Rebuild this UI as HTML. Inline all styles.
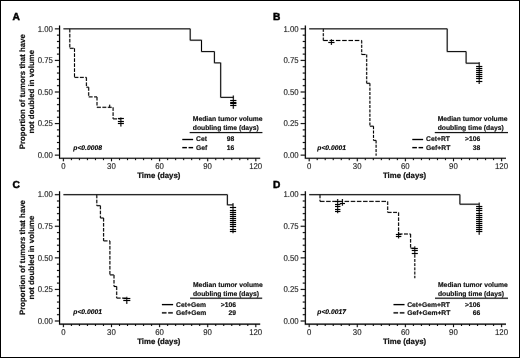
<!DOCTYPE html>
<html><head><meta charset="utf-8"><title>Figure</title>
<style>
html,body{margin:0;padding:0;background:#fff;}
body{width:520px;height:358px;overflow:hidden;font-family:"Liberation Sans", sans-serif;}
.frame{position:absolute;left:0;top:0;width:518px;height:356px;border:1px solid #000;}
svg{display:block;font-family:"Liberation Sans", sans-serif;filter:blur(0.4px);}
</style></head>
<body>
<svg width="520" height="358" viewBox="0 0 520 358" text-rendering="geometricPrecision">
<rect x="0" y="0" width="520" height="358" fill="#fff"/>
<g transform="translate(0,0.4)">
<g opacity="0.17">
<path d="M59.55,25.10 V157.90 H260.20" fill="none" stroke="#000" stroke-width="2.00" stroke-linejoin="miter"/>
<path d="M54.85,28.45H59.55M56.95,34.77H59.55M56.95,41.08H59.55M56.95,47.39H59.55M56.95,53.71H59.55M54.85,60.02H59.55M56.95,66.34H59.55M56.95,72.66H59.55M56.95,78.97H59.55M56.95,85.28H59.55M54.85,91.60H59.55M56.95,97.91H59.55M56.95,104.23H59.55M56.95,110.55H59.55M56.95,116.86H59.55M54.85,123.17H59.55M56.95,129.49H59.55M56.95,135.80H59.55M56.95,142.12H59.55M56.95,148.43H59.55M54.85,154.75H59.55" stroke="#000" stroke-width="1.85" fill="none"/>
<text transform="translate(52.90,31.10) scale(1,1.08)" text-anchor="end" font-size="7.8" fill="#1a1a1a" stroke="#1a1a1a" stroke-width="0.42">1.00</text>
<text transform="translate(52.90,62.67) scale(1,1.08)" text-anchor="end" font-size="7.8" fill="#1a1a1a" stroke="#1a1a1a" stroke-width="0.42">0.75</text>
<text transform="translate(52.90,94.25) scale(1,1.08)" text-anchor="end" font-size="7.8" fill="#1a1a1a" stroke="#1a1a1a" stroke-width="0.42">0.50</text>
<text transform="translate(52.90,125.83) scale(1,1.08)" text-anchor="end" font-size="7.8" fill="#1a1a1a" stroke="#1a1a1a" stroke-width="0.42">0.25</text>
<text transform="translate(52.90,157.40) scale(1,1.08)" text-anchor="end" font-size="7.8" fill="#1a1a1a" stroke="#1a1a1a" stroke-width="0.42">0.00</text>
<path d="M63.40,157.90V160.90M71.42,157.90V159.75M79.43,157.90V159.75M87.45,157.90V159.75M95.47,157.90V159.75M103.48,157.90V159.75M111.50,157.90V160.90M119.52,157.90V159.75M127.53,157.90V159.75M135.55,157.90V159.75M143.57,157.90V159.75M151.58,157.90V159.75M159.60,157.90V160.90M167.62,157.90V159.75M175.63,157.90V159.75M183.65,157.90V159.75M191.67,157.90V159.75M199.68,157.90V159.75M207.70,157.90V160.90M215.72,157.90V159.75M223.73,157.90V159.75M231.75,157.90V159.75M239.77,157.90V159.75M247.78,157.90V159.75M255.80,157.90V160.90" stroke="#000" stroke-width="1.85" fill="none"/>
<text transform="translate(63.30,168.60) scale(1,1.08)" text-anchor="middle" font-size="7.8" fill="#1a1a1a" stroke="#1a1a1a" stroke-width="0.42">0</text>
<text transform="translate(111.40,168.60) scale(1,1.08)" text-anchor="middle" font-size="7.8" fill="#1a1a1a" stroke="#1a1a1a" stroke-width="0.42">30</text>
<text transform="translate(159.50,168.60) scale(1,1.08)" text-anchor="middle" font-size="7.8" fill="#1a1a1a" stroke="#1a1a1a" stroke-width="0.42">60</text>
<text transform="translate(207.60,168.60) scale(1,1.08)" text-anchor="middle" font-size="7.8" fill="#1a1a1a" stroke="#1a1a1a" stroke-width="0.42">90</text>
<text transform="translate(255.70,168.60) scale(1,1.08)" text-anchor="middle" font-size="7.8" fill="#1a1a1a" stroke="#1a1a1a" stroke-width="0.42">120</text>
<text x="158.80" y="177.50" text-anchor="middle" font-size="7.8" font-weight="bold" fill="#111" stroke="#111" stroke-width="0.52">Time (days)</text>
<text transform="translate(24.90,91.30) rotate(-90)" text-anchor="middle" font-size="7.85" font-weight="bold" fill="#111" stroke="#111" stroke-width="0.48">Proportion of tumors that have</text>
<text transform="translate(34.40,91.30) rotate(-90)" text-anchor="middle" font-size="7.85" font-weight="bold" fill="#111" stroke="#111" stroke-width="0.48">not doubled in volume</text>
<path d="M305.35,25.10 V157.90 H506.00" fill="none" stroke="#000" stroke-width="2.00" stroke-linejoin="miter"/>
<path d="M300.65,28.45H305.35M302.75,34.77H305.35M302.75,41.08H305.35M302.75,47.39H305.35M302.75,53.71H305.35M300.65,60.02H305.35M302.75,66.34H305.35M302.75,72.66H305.35M302.75,78.97H305.35M302.75,85.28H305.35M300.65,91.60H305.35M302.75,97.91H305.35M302.75,104.23H305.35M302.75,110.55H305.35M302.75,116.86H305.35M300.65,123.17H305.35M302.75,129.49H305.35M302.75,135.80H305.35M302.75,142.12H305.35M302.75,148.43H305.35M300.65,154.75H305.35" stroke="#000" stroke-width="1.85" fill="none"/>
<text transform="translate(298.70,31.10) scale(1,1.08)" text-anchor="end" font-size="7.8" fill="#1a1a1a" stroke="#1a1a1a" stroke-width="0.42">1.00</text>
<text transform="translate(298.70,62.67) scale(1,1.08)" text-anchor="end" font-size="7.8" fill="#1a1a1a" stroke="#1a1a1a" stroke-width="0.42">0.75</text>
<text transform="translate(298.70,94.25) scale(1,1.08)" text-anchor="end" font-size="7.8" fill="#1a1a1a" stroke="#1a1a1a" stroke-width="0.42">0.50</text>
<text transform="translate(298.70,125.83) scale(1,1.08)" text-anchor="end" font-size="7.8" fill="#1a1a1a" stroke="#1a1a1a" stroke-width="0.42">0.25</text>
<text transform="translate(298.70,157.40) scale(1,1.08)" text-anchor="end" font-size="7.8" fill="#1a1a1a" stroke="#1a1a1a" stroke-width="0.42">0.00</text>
<path d="M309.20,157.90V160.90M317.22,157.90V159.75M325.23,157.90V159.75M333.25,157.90V159.75M341.27,157.90V159.75M349.28,157.90V159.75M357.30,157.90V160.90M365.32,157.90V159.75M373.33,157.90V159.75M381.35,157.90V159.75M389.37,157.90V159.75M397.38,157.90V159.75M405.40,157.90V160.90M413.42,157.90V159.75M421.43,157.90V159.75M429.45,157.90V159.75M437.47,157.90V159.75M445.48,157.90V159.75M453.50,157.90V160.90M461.52,157.90V159.75M469.53,157.90V159.75M477.55,157.90V159.75M485.57,157.90V159.75M493.58,157.90V159.75M501.60,157.90V160.90" stroke="#000" stroke-width="1.85" fill="none"/>
<text transform="translate(309.10,168.60) scale(1,1.08)" text-anchor="middle" font-size="7.8" fill="#1a1a1a" stroke="#1a1a1a" stroke-width="0.42">0</text>
<text transform="translate(357.20,168.60) scale(1,1.08)" text-anchor="middle" font-size="7.8" fill="#1a1a1a" stroke="#1a1a1a" stroke-width="0.42">30</text>
<text transform="translate(405.30,168.60) scale(1,1.08)" text-anchor="middle" font-size="7.8" fill="#1a1a1a" stroke="#1a1a1a" stroke-width="0.42">60</text>
<text transform="translate(453.40,168.60) scale(1,1.08)" text-anchor="middle" font-size="7.8" fill="#1a1a1a" stroke="#1a1a1a" stroke-width="0.42">90</text>
<text transform="translate(501.50,168.60) scale(1,1.08)" text-anchor="middle" font-size="7.8" fill="#1a1a1a" stroke="#1a1a1a" stroke-width="0.42">120</text>
<text x="404.60" y="177.50" text-anchor="middle" font-size="7.8" font-weight="bold" fill="#111" stroke="#111" stroke-width="0.52">Time (days)</text>
<path d="M59.55,190.95 V323.75 H260.20" fill="none" stroke="#000" stroke-width="2.00" stroke-linejoin="miter"/>
<path d="M54.85,194.30H59.55M56.95,200.61H59.55M56.95,206.93H59.55M56.95,213.25H59.55M56.95,219.56H59.55M54.85,225.88H59.55M56.95,232.19H59.55M56.95,238.50H59.55M56.95,244.82H59.55M56.95,251.13H59.55M54.85,257.45H59.55M56.95,263.76H59.55M56.95,270.08H59.55M56.95,276.39H59.55M56.95,282.71H59.55M54.85,289.03H59.55M56.95,295.34H59.55M56.95,301.66H59.55M56.95,307.97H59.55M56.95,314.29H59.55M54.85,320.60H59.55" stroke="#000" stroke-width="1.85" fill="none"/>
<text transform="translate(52.90,196.95) scale(1,1.08)" text-anchor="end" font-size="7.8" fill="#1a1a1a" stroke="#1a1a1a" stroke-width="0.42">1.00</text>
<text transform="translate(52.90,228.53) scale(1,1.08)" text-anchor="end" font-size="7.8" fill="#1a1a1a" stroke="#1a1a1a" stroke-width="0.42">0.75</text>
<text transform="translate(52.90,260.10) scale(1,1.08)" text-anchor="end" font-size="7.8" fill="#1a1a1a" stroke="#1a1a1a" stroke-width="0.42">0.50</text>
<text transform="translate(52.90,291.68) scale(1,1.08)" text-anchor="end" font-size="7.8" fill="#1a1a1a" stroke="#1a1a1a" stroke-width="0.42">0.25</text>
<text transform="translate(52.90,323.25) scale(1,1.08)" text-anchor="end" font-size="7.8" fill="#1a1a1a" stroke="#1a1a1a" stroke-width="0.42">0.00</text>
<path d="M63.40,323.75V326.75M71.42,323.75V325.60M79.43,323.75V325.60M87.45,323.75V325.60M95.47,323.75V325.60M103.48,323.75V325.60M111.50,323.75V326.75M119.52,323.75V325.60M127.53,323.75V325.60M135.55,323.75V325.60M143.57,323.75V325.60M151.58,323.75V325.60M159.60,323.75V326.75M167.62,323.75V325.60M175.63,323.75V325.60M183.65,323.75V325.60M191.67,323.75V325.60M199.68,323.75V325.60M207.70,323.75V326.75M215.72,323.75V325.60M223.73,323.75V325.60M231.75,323.75V325.60M239.77,323.75V325.60M247.78,323.75V325.60M255.80,323.75V326.75" stroke="#000" stroke-width="1.85" fill="none"/>
<text transform="translate(63.30,334.45) scale(1,1.08)" text-anchor="middle" font-size="7.8" fill="#1a1a1a" stroke="#1a1a1a" stroke-width="0.42">0</text>
<text transform="translate(111.40,334.45) scale(1,1.08)" text-anchor="middle" font-size="7.8" fill="#1a1a1a" stroke="#1a1a1a" stroke-width="0.42">30</text>
<text transform="translate(159.50,334.45) scale(1,1.08)" text-anchor="middle" font-size="7.8" fill="#1a1a1a" stroke="#1a1a1a" stroke-width="0.42">60</text>
<text transform="translate(207.60,334.45) scale(1,1.08)" text-anchor="middle" font-size="7.8" fill="#1a1a1a" stroke="#1a1a1a" stroke-width="0.42">90</text>
<text transform="translate(255.70,334.45) scale(1,1.08)" text-anchor="middle" font-size="7.8" fill="#1a1a1a" stroke="#1a1a1a" stroke-width="0.42">120</text>
<text x="158.80" y="343.35" text-anchor="middle" font-size="7.8" font-weight="bold" fill="#111" stroke="#111" stroke-width="0.52">Time (days)</text>
<text transform="translate(24.90,257.15) rotate(-90)" text-anchor="middle" font-size="7.85" font-weight="bold" fill="#111" stroke="#111" stroke-width="0.48">Proportion of tumors that have</text>
<text transform="translate(34.40,257.15) rotate(-90)" text-anchor="middle" font-size="7.85" font-weight="bold" fill="#111" stroke="#111" stroke-width="0.48">not doubled in volume</text>
<path d="M305.35,190.95 V323.75 H506.00" fill="none" stroke="#000" stroke-width="2.00" stroke-linejoin="miter"/>
<path d="M300.65,194.30H305.35M302.75,200.61H305.35M302.75,206.93H305.35M302.75,213.25H305.35M302.75,219.56H305.35M300.65,225.88H305.35M302.75,232.19H305.35M302.75,238.50H305.35M302.75,244.82H305.35M302.75,251.13H305.35M300.65,257.45H305.35M302.75,263.76H305.35M302.75,270.08H305.35M302.75,276.39H305.35M302.75,282.71H305.35M300.65,289.03H305.35M302.75,295.34H305.35M302.75,301.66H305.35M302.75,307.97H305.35M302.75,314.29H305.35M300.65,320.60H305.35" stroke="#000" stroke-width="1.85" fill="none"/>
<text transform="translate(298.70,196.95) scale(1,1.08)" text-anchor="end" font-size="7.8" fill="#1a1a1a" stroke="#1a1a1a" stroke-width="0.42">1.00</text>
<text transform="translate(298.70,228.53) scale(1,1.08)" text-anchor="end" font-size="7.8" fill="#1a1a1a" stroke="#1a1a1a" stroke-width="0.42">0.75</text>
<text transform="translate(298.70,260.10) scale(1,1.08)" text-anchor="end" font-size="7.8" fill="#1a1a1a" stroke="#1a1a1a" stroke-width="0.42">0.50</text>
<text transform="translate(298.70,291.68) scale(1,1.08)" text-anchor="end" font-size="7.8" fill="#1a1a1a" stroke="#1a1a1a" stroke-width="0.42">0.25</text>
<text transform="translate(298.70,323.25) scale(1,1.08)" text-anchor="end" font-size="7.8" fill="#1a1a1a" stroke="#1a1a1a" stroke-width="0.42">0.00</text>
<path d="M309.20,323.75V326.75M317.22,323.75V325.60M325.23,323.75V325.60M333.25,323.75V325.60M341.27,323.75V325.60M349.28,323.75V325.60M357.30,323.75V326.75M365.32,323.75V325.60M373.33,323.75V325.60M381.35,323.75V325.60M389.37,323.75V325.60M397.38,323.75V325.60M405.40,323.75V326.75M413.42,323.75V325.60M421.43,323.75V325.60M429.45,323.75V325.60M437.47,323.75V325.60M445.48,323.75V325.60M453.50,323.75V326.75M461.52,323.75V325.60M469.53,323.75V325.60M477.55,323.75V325.60M485.57,323.75V325.60M493.58,323.75V325.60M501.60,323.75V326.75" stroke="#000" stroke-width="1.85" fill="none"/>
<text transform="translate(309.10,334.45) scale(1,1.08)" text-anchor="middle" font-size="7.8" fill="#1a1a1a" stroke="#1a1a1a" stroke-width="0.42">0</text>
<text transform="translate(357.20,334.45) scale(1,1.08)" text-anchor="middle" font-size="7.8" fill="#1a1a1a" stroke="#1a1a1a" stroke-width="0.42">30</text>
<text transform="translate(405.30,334.45) scale(1,1.08)" text-anchor="middle" font-size="7.8" fill="#1a1a1a" stroke="#1a1a1a" stroke-width="0.42">60</text>
<text transform="translate(453.40,334.45) scale(1,1.08)" text-anchor="middle" font-size="7.8" fill="#1a1a1a" stroke="#1a1a1a" stroke-width="0.42">90</text>
<text transform="translate(501.50,334.45) scale(1,1.08)" text-anchor="middle" font-size="7.8" fill="#1a1a1a" stroke="#1a1a1a" stroke-width="0.42">120</text>
<text x="404.60" y="343.35" text-anchor="middle" font-size="7.8" font-weight="bold" fill="#111" stroke="#111" stroke-width="0.52">Time (days)</text>
<text x="12.5" y="19.7" font-size="10.2" font-weight="bold" fill="#000" stroke="#000" stroke-width="0.80">A</text>
<text x="273.1" y="19.6" font-size="10.2" font-weight="bold" fill="#000" stroke="#000" stroke-width="0.80">B</text>
<text x="12.5" y="188.10000000000002" font-size="10.2" font-weight="bold" fill="#000" stroke="#000" stroke-width="0.80">C</text>
<text x="273.1" y="187.4" font-size="10.2" font-weight="bold" fill="#000" stroke="#000" stroke-width="0.80">D</text>
<path d="M63.4,28.45 H190.2 V39.8 H201.5 V51.2 H214.4 V62.5 H220.7 V96.95 H233.3" fill="none" stroke="#000" stroke-width="1.90" stroke-linejoin="miter"/>
<path d="M233.30,95.10V108.35M230.20,100.10H236.40M230.20,102.10H236.40M230.20,103.10H236.40M230.20,105.10H236.40" fill="none" stroke="#000" stroke-width="1.90"/>
<path d="M69.80,28.45L69.80,47.90" fill="none" stroke="#000" stroke-width="1.90" stroke-dasharray="3.6 1.4" stroke-dashoffset="-0.00" stroke-linecap="butt"/>
<path d="M69.80,47.90L74.50,47.90" fill="none" stroke="#000" stroke-width="1.90" stroke-dasharray="3.9 1.5" stroke-dashoffset="-0.00" stroke-linecap="butt"/>
<path d="M74.50,47.90L74.50,77.00" fill="none" stroke="#000" stroke-width="1.90" stroke-dasharray="3.6 1.4" stroke-dashoffset="-0.00" stroke-linecap="butt"/>
<path d="M74.50,77.00L86.40,77.00" fill="none" stroke="#000" stroke-width="1.90" stroke-dasharray="3.9 1.5" stroke-dashoffset="-0.00" stroke-linecap="butt"/>
<path d="M86.40,77.00L86.40,86.80" fill="none" stroke="#000" stroke-width="1.90" stroke-dasharray="3.6 1.4" stroke-dashoffset="-0.00" stroke-linecap="butt"/>
<path d="M86.40,86.80L88.70,86.80" fill="none" stroke="#000" stroke-width="1.90" stroke-dasharray="3.9 1.5" stroke-dashoffset="-0.00" stroke-linecap="butt"/>
<path d="M88.70,86.80L88.70,96.50" fill="none" stroke="#000" stroke-width="1.90" stroke-dasharray="3.6 1.4" stroke-dashoffset="-0.00" stroke-linecap="butt"/>
<path d="M88.70,96.50L97.00,96.50" fill="none" stroke="#000" stroke-width="1.90" stroke-dasharray="3.9 1.5" stroke-dashoffset="-0.00" stroke-linecap="butt"/>
<path d="M97.00,96.50L97.00,106.90" fill="none" stroke="#000" stroke-width="1.90" stroke-dasharray="3.6 1.4" stroke-dashoffset="-0.00" stroke-linecap="butt"/>
<path d="M97.00,106.90L113.10,106.90" fill="none" stroke="#000" stroke-width="1.90" stroke-dasharray="3.9 1.5" stroke-dashoffset="-0.00" stroke-linecap="butt"/>
<path d="M113.10,106.90L113.10,118.50" fill="none" stroke="#000" stroke-width="1.90" stroke-dasharray="3.6 1.4" stroke-dashoffset="-0.00" stroke-linecap="butt"/>
<path d="M113.10,118.50L120.90,118.50" fill="none" stroke="#000" stroke-width="1.90" stroke-dasharray="3.9 1.5" stroke-dashoffset="-0.00" stroke-linecap="butt"/>
<path d="M109.70,104.30V107.20" fill="none" stroke="#000" stroke-width="1.90"/>
<path d="M120.90,117.00V126.10M117.90,118.10H123.90M117.90,121.10H123.90M117.90,123.10H123.90" fill="none" stroke="#000" stroke-width="1.90"/>
<text x="73.3" y="149.4" font-size="6.75" font-weight="bold" font-style="italic" fill="#000" stroke="#000" stroke-width="0.46">p&lt;0.0008</text>
<text x="192.8" y="120.85" font-size="6.75" font-weight="bold" fill="#111" stroke="#111" stroke-width="0.48">Median tumor volume</text>
<text x="192.8" y="129.7" font-size="6.75" font-weight="bold" fill="#111" stroke="#111" stroke-width="0.48">doubling time (days)</text>
<path d="M189.7,132.2H262.4" stroke="#000" stroke-width="1.90" fill="none"/>
<path d="M182.3,139.1H193.10000000000002" stroke="#000" stroke-width="2.10" fill="none"/>
<path d="M182.3,147.2H193.10000000000002" stroke="#000" stroke-width="2.10" stroke-dasharray="4.6 1.7" fill="none"/>
<text x="196.1" y="140.8" font-size="6.75" font-weight="bold" fill="#111" stroke="#111" stroke-width="0.48">Cet</text>
<text x="196.1" y="149.5" font-size="6.75" font-weight="bold" fill="#111" stroke="#111" stroke-width="0.48">Gef</text>
<text x="234.2" y="140.8" text-anchor="end" font-size="6.75" font-weight="bold" fill="#111" stroke="#111" stroke-width="0.48">98</text>
<text x="234.2" y="149.5" text-anchor="end" font-size="6.75" font-weight="bold" fill="#111" stroke="#111" stroke-width="0.48">16</text>
<path d="M309.2,28.45 H447.2 V51.2 H466.1 V62.8 H479.2" fill="none" stroke="#000" stroke-width="1.90" stroke-linejoin="miter"/>
<path d="M479.20,61.80V83.60M476.10,66.10H482.30M476.10,68.10H482.30M476.10,70.10H482.30M476.10,72.10H482.30M476.10,74.10H482.30M476.10,76.10H482.30M476.10,78.10H482.30M476.10,81.10H482.30" fill="none" stroke="#000" stroke-width="1.90"/>
<path d="M323.30,28.45L323.30,40.10" fill="none" stroke="#000" stroke-width="1.90" stroke-dasharray="3.0 1.35" stroke-dashoffset="-0.00" stroke-linecap="butt"/>
<path d="M323.30,40.10L361.70,40.10" fill="none" stroke="#000" stroke-width="1.90" stroke-dasharray="4.5 1.8" stroke-dashoffset="-0.00" stroke-linecap="butt"/>
<path d="M361.70,40.10L361.70,54.10" fill="none" stroke="#000" stroke-width="1.90" stroke-dasharray="3.0 1.35" stroke-dashoffset="-0.00" stroke-linecap="butt"/>
<path d="M361.70,54.10L366.70,54.10" fill="none" stroke="#000" stroke-width="1.90" stroke-dasharray="3.9 1.5" stroke-dashoffset="-0.00" stroke-linecap="butt"/>
<path d="M366.70,54.10L366.70,82.90" fill="none" stroke="#000" stroke-width="1.90" stroke-dasharray="3.0 1.35" stroke-dashoffset="-0.00" stroke-linecap="butt"/>
<path d="M366.70,82.90L369.90,82.90" fill="none" stroke="#000" stroke-width="1.90" stroke-dasharray="3.9 1.5" stroke-dashoffset="-0.00" stroke-linecap="butt"/>
<path d="M369.90,82.90L369.90,125.80" fill="none" stroke="#000" stroke-width="1.90" stroke-dasharray="3.0 1.35" stroke-dashoffset="-0.00" stroke-linecap="butt"/>
<path d="M369.90,125.80L373.50,125.80" fill="none" stroke="#000" stroke-width="1.90" stroke-dasharray="3.9 1.5" stroke-dashoffset="-0.00" stroke-linecap="butt"/>
<path d="M373.50,125.80L373.50,140.00" fill="none" stroke="#000" stroke-width="1.90" stroke-dasharray="3.0 1.35" stroke-dashoffset="-0.00" stroke-linecap="butt"/>
<path d="M373.50,140.00L376.10,140.00" fill="none" stroke="#000" stroke-width="1.90" stroke-dasharray="3.9 1.5" stroke-dashoffset="-0.00" stroke-linecap="butt"/>
<path d="M376.10,140.00L376.10,155.30" fill="none" stroke="#000" stroke-width="1.90" stroke-dasharray="3.0 1.35" stroke-dashoffset="-0.00" stroke-linecap="butt"/>
<path d="M331.40,38.90V44.50M328.30,42.10H334.50" fill="none" stroke="#000" stroke-width="1.90"/>
<text x="317.3" y="149.4" font-size="6.75" font-weight="bold" font-style="italic" fill="#000" stroke="#000" stroke-width="0.46">p&lt;0.0001</text>
<text x="437.7" y="120.85" font-size="6.75" font-weight="bold" fill="#111" stroke="#111" stroke-width="0.48">Median tumor volume</text>
<text x="437.7" y="129.7" font-size="6.75" font-weight="bold" fill="#111" stroke="#111" stroke-width="0.48">doubling time (days)</text>
<path d="M434.8,132.2H508.0" stroke="#000" stroke-width="1.90" fill="none"/>
<path d="M412.3,139.1H423.1" stroke="#000" stroke-width="2.10" fill="none"/>
<path d="M412.3,147.2H423.1" stroke="#000" stroke-width="2.10" stroke-dasharray="4.6 1.7" fill="none"/>
<text x="426.1" y="140.8" font-size="6.75" font-weight="bold" fill="#111" stroke="#111" stroke-width="0.48">Cet+RT</text>
<text x="426.1" y="149.5" font-size="6.75" font-weight="bold" fill="#111" stroke="#111" stroke-width="0.48">Gef+RT</text>
<text x="480.3" y="140.8" text-anchor="end" font-size="6.75" font-weight="bold" fill="#111" stroke="#111" stroke-width="0.48">&gt;106</text>
<text x="480.3" y="149.5" text-anchor="end" font-size="6.75" font-weight="bold" fill="#111" stroke="#111" stroke-width="0.48">38</text>
<path d="M63.4,194.3 H227.35 V204.5 H233" fill="none" stroke="#000" stroke-width="1.90" stroke-linejoin="miter"/>
<path d="M233.00,202.80V232.80M229.90,207.10H236.10M229.90,210.10H236.10M229.90,212.10H236.10M229.90,214.10H236.10M229.90,216.10H236.10M229.90,218.10H236.10M229.90,220.10H236.10M229.90,222.10H236.10M229.90,224.10H236.10M229.90,226.10H236.10M229.90,229.10H236.10M229.90,231.10H236.10" fill="none" stroke="#000" stroke-width="1.90"/>
<path d="M96.80,194.30L96.80,205.30" fill="none" stroke="#000" stroke-width="1.90" stroke-dasharray="3.6 1.4" stroke-dashoffset="-0.00" stroke-linecap="butt"/>
<path d="M96.80,205.30L100.40,205.30" fill="none" stroke="#000" stroke-width="1.90" stroke-dasharray="3.9 1.5" stroke-dashoffset="-0.00" stroke-linecap="butt"/>
<path d="M100.40,205.30L100.40,217.60" fill="none" stroke="#000" stroke-width="1.90" stroke-dasharray="3.6 1.4" stroke-dashoffset="-0.00" stroke-linecap="butt"/>
<path d="M100.40,217.60L103.60,217.60" fill="none" stroke="#000" stroke-width="1.90" stroke-dasharray="3.9 1.5" stroke-dashoffset="-0.00" stroke-linecap="butt"/>
<path d="M103.60,217.60L103.60,240.50" fill="none" stroke="#000" stroke-width="1.90" stroke-dasharray="3.6 1.4" stroke-dashoffset="-0.00" stroke-linecap="butt"/>
<path d="M103.60,240.50L109.90,240.50" fill="none" stroke="#000" stroke-width="1.90" stroke-dasharray="3.9 1.5" stroke-dashoffset="-0.00" stroke-linecap="butt"/>
<path d="M109.90,240.50L109.90,274.50" fill="none" stroke="#000" stroke-width="1.90" stroke-dasharray="3.6 1.4" stroke-dashoffset="-0.00" stroke-linecap="butt"/>
<path d="M109.90,274.50L114.00,274.50" fill="none" stroke="#000" stroke-width="1.90" stroke-dasharray="3.9 1.5" stroke-dashoffset="-0.00" stroke-linecap="butt"/>
<path d="M114.00,274.50L114.00,286.10" fill="none" stroke="#000" stroke-width="1.90" stroke-dasharray="3.6 1.4" stroke-dashoffset="-0.00" stroke-linecap="butt"/>
<path d="M114.00,286.10L116.70,286.10" fill="none" stroke="#000" stroke-width="1.90" stroke-dasharray="3.9 1.5" stroke-dashoffset="-0.00" stroke-linecap="butt"/>
<path d="M116.70,286.10L116.70,297.70" fill="none" stroke="#000" stroke-width="1.90" stroke-dasharray="3.6 1.4" stroke-dashoffset="-0.00" stroke-linecap="butt"/>
<path d="M116.70,297.70L127.00,297.70" fill="none" stroke="#000" stroke-width="1.90" stroke-dasharray="3.9 1.5" stroke-dashoffset="-0.00" stroke-linecap="butt"/>
<path d="M126.80,296.40V303.50M123.30,298.10H130.30M123.30,300.10H130.30" fill="none" stroke="#000" stroke-width="1.90"/>
<text x="73.3" y="314.0" font-size="6.75" font-weight="bold" font-style="italic" fill="#000" stroke="#000" stroke-width="0.46">p&lt;0.0001</text>
<text x="193.0" y="286.8" font-size="6.75" font-weight="bold" fill="#111" stroke="#111" stroke-width="0.48">Median tumor volume</text>
<text x="193.0" y="295.5" font-size="6.75" font-weight="bold" fill="#111" stroke="#111" stroke-width="0.48">doubling time (days)</text>
<path d="M190.1,297.8H262.2" stroke="#000" stroke-width="1.90" fill="none"/>
<path d="M161.9,304.2H173.10000000000002" stroke="#000" stroke-width="2.10" fill="none"/>
<path d="M161.9,312.4H173.10000000000002" stroke="#000" stroke-width="2.10" stroke-dasharray="4.6 1.7" fill="none"/>
<text x="176.1" y="306.3" font-size="6.75" font-weight="bold" fill="#111" stroke="#111" stroke-width="0.48">Cet+Gem</text>
<text x="176.1" y="314.6" font-size="6.75" font-weight="bold" fill="#111" stroke="#111" stroke-width="0.48">Gef+Gem</text>
<text x="236.0" y="306.3" text-anchor="end" font-size="6.75" font-weight="bold" fill="#111" stroke="#111" stroke-width="0.48">&gt;106</text>
<text x="236.0" y="314.6" text-anchor="end" font-size="6.75" font-weight="bold" fill="#111" stroke="#111" stroke-width="0.48">29</text>
<path d="M309.2,194.3 H459.9 V203.8 H479.2" fill="none" stroke="#000" stroke-width="1.90" stroke-linejoin="miter"/>
<path d="M479.20,202.20V234.40M476.10,206.10H482.30M476.10,208.10H482.30M476.10,210.10H482.30M476.10,213.10H482.30M476.10,215.10H482.30M476.10,217.10H482.30M476.10,219.10H482.30M476.10,221.10H482.30M476.10,223.10H482.30M476.10,225.10H482.30M476.10,227.10H482.30M476.10,229.10H482.30M476.10,231.10H482.30" fill="none" stroke="#000" stroke-width="1.90"/>
<path d="M320.00,194.30L320.00,201.00" fill="none" stroke="#000" stroke-width="1.90" stroke-dasharray="3.6 1.4" stroke-dashoffset="-0.00" stroke-linecap="butt"/>
<path d="M320.00,201.00L387.70,201.00" fill="none" stroke="#000" stroke-width="1.90" stroke-dasharray="4.5 1.65" stroke-dashoffset="-0.00" stroke-linecap="butt"/>
<path d="M387.70,201.00L387.70,212.00" fill="none" stroke="#000" stroke-width="1.90" stroke-dasharray="3.6 1.4" stroke-dashoffset="-0.00" stroke-linecap="butt"/>
<path d="M387.70,212.00L398.60,212.00" fill="none" stroke="#000" stroke-width="1.90" stroke-dasharray="3.9 1.5" stroke-dashoffset="-0.00" stroke-linecap="butt"/>
<path d="M398.60,212.00L398.60,233.60" fill="none" stroke="#000" stroke-width="1.90" stroke-dasharray="3.6 1.4" stroke-dashoffset="-0.00" stroke-linecap="butt"/>
<path d="M398.60,233.60L410.60,233.60" fill="none" stroke="#000" stroke-width="1.90" stroke-dasharray="3.9 1.5" stroke-dashoffset="-0.00" stroke-linecap="butt"/>
<path d="M410.60,233.60L410.60,247.80" fill="none" stroke="#000" stroke-width="1.90" stroke-dasharray="3.6 1.4" stroke-dashoffset="-0.00" stroke-linecap="butt"/>
<path d="M410.60,247.80L414.80,247.80" fill="none" stroke="#000" stroke-width="1.90" stroke-dasharray="3.9 1.5" stroke-dashoffset="-0.00" stroke-linecap="butt"/>
<path d="M414.80,254.40L414.80,277.80" fill="none" stroke="#000" stroke-width="1.90" stroke-dasharray="2.9 1.3" stroke-dashoffset="-0.00" stroke-linecap="butt"/>
<path d="M337.70,198.60V212.80M335.00,201.10H340.40M335.00,204.10H340.40M335.00,206.10H340.40M335.00,209.10H340.40M335.00,211.10H340.40" fill="none" stroke="#000" stroke-width="1.90"/>
<path d="M342.40,198.60V205.30M339.80,203.10H345.00" fill="none" stroke="#000" stroke-width="1.90"/>
<path d="M398.60,231.40V238.00M395.90,234.10H401.30M395.90,236.10H401.30" fill="none" stroke="#000" stroke-width="1.90"/>
<path d="M414.80,246.00V254.40M411.80,248.10H417.80M411.80,250.10H417.80M411.80,253.10H417.80" fill="none" stroke="#000" stroke-width="1.90"/>
<text x="317.3" y="314.0" font-size="6.75" font-weight="bold" font-style="italic" fill="#000" stroke="#000" stroke-width="0.46">p&lt;0.0017</text>
<text x="438.0" y="286.8" font-size="6.75" font-weight="bold" fill="#111" stroke="#111" stroke-width="0.48">Median tumor volume</text>
<text x="438.0" y="295.5" font-size="6.75" font-weight="bold" fill="#111" stroke="#111" stroke-width="0.48">doubling time (days)</text>
<path d="M435.0,297.8H508.0" stroke="#000" stroke-width="1.90" fill="none"/>
<path d="M393.5,304.2H404.5" stroke="#000" stroke-width="2.10" fill="none"/>
<path d="M393.5,312.4H404.5" stroke="#000" stroke-width="2.10" stroke-dasharray="4.6 1.7" fill="none"/>
<text x="407.2" y="306.3" font-size="6.75" font-weight="bold" fill="#111" stroke="#111" stroke-width="0.48">Cet+Gem+RT</text>
<text x="407.2" y="314.6" font-size="6.75" font-weight="bold" fill="#111" stroke="#111" stroke-width="0.48">Gef+Gem+RT</text>
<text x="480.2" y="306.3" text-anchor="end" font-size="6.75" font-weight="bold" fill="#111" stroke="#111" stroke-width="0.48">&gt;106</text>
<text x="480.2" y="314.6" text-anchor="end" font-size="6.75" font-weight="bold" fill="#111" stroke="#111" stroke-width="0.48">66</text>
</g>
<path d="M59.55,25.10 V157.90 H260.20" fill="none" stroke="#000" stroke-width="1.1" stroke-linejoin="miter"/>
<path d="M54.85,28.45H59.55M56.95,34.77H59.55M56.95,41.08H59.55M56.95,47.39H59.55M56.95,53.71H59.55M54.85,60.02H59.55M56.95,66.34H59.55M56.95,72.66H59.55M56.95,78.97H59.55M56.95,85.28H59.55M54.85,91.60H59.55M56.95,97.91H59.55M56.95,104.23H59.55M56.95,110.55H59.55M56.95,116.86H59.55M54.85,123.17H59.55M56.95,129.49H59.55M56.95,135.80H59.55M56.95,142.12H59.55M56.95,148.43H59.55M54.85,154.75H59.55" stroke="#000" stroke-width="0.95" fill="none"/>
<text transform="translate(52.90,31.10) scale(1,1.08)" text-anchor="end" font-size="7.8" fill="#1a1a1a" stroke="#1a1a1a" stroke-width="0.02">1.00</text>
<text transform="translate(52.90,62.67) scale(1,1.08)" text-anchor="end" font-size="7.8" fill="#1a1a1a" stroke="#1a1a1a" stroke-width="0.02">0.75</text>
<text transform="translate(52.90,94.25) scale(1,1.08)" text-anchor="end" font-size="7.8" fill="#1a1a1a" stroke="#1a1a1a" stroke-width="0.02">0.50</text>
<text transform="translate(52.90,125.83) scale(1,1.08)" text-anchor="end" font-size="7.8" fill="#1a1a1a" stroke="#1a1a1a" stroke-width="0.02">0.25</text>
<text transform="translate(52.90,157.40) scale(1,1.08)" text-anchor="end" font-size="7.8" fill="#1a1a1a" stroke="#1a1a1a" stroke-width="0.02">0.00</text>
<path d="M63.40,157.90V160.90M71.42,157.90V159.75M79.43,157.90V159.75M87.45,157.90V159.75M95.47,157.90V159.75M103.48,157.90V159.75M111.50,157.90V160.90M119.52,157.90V159.75M127.53,157.90V159.75M135.55,157.90V159.75M143.57,157.90V159.75M151.58,157.90V159.75M159.60,157.90V160.90M167.62,157.90V159.75M175.63,157.90V159.75M183.65,157.90V159.75M191.67,157.90V159.75M199.68,157.90V159.75M207.70,157.90V160.90M215.72,157.90V159.75M223.73,157.90V159.75M231.75,157.90V159.75M239.77,157.90V159.75M247.78,157.90V159.75M255.80,157.90V160.90" stroke="#000" stroke-width="0.95" fill="none"/>
<text transform="translate(63.30,168.60) scale(1,1.08)" text-anchor="middle" font-size="7.8" fill="#1a1a1a" stroke="#1a1a1a" stroke-width="0.02">0</text>
<text transform="translate(111.40,168.60) scale(1,1.08)" text-anchor="middle" font-size="7.8" fill="#1a1a1a" stroke="#1a1a1a" stroke-width="0.02">30</text>
<text transform="translate(159.50,168.60) scale(1,1.08)" text-anchor="middle" font-size="7.8" fill="#1a1a1a" stroke="#1a1a1a" stroke-width="0.02">60</text>
<text transform="translate(207.60,168.60) scale(1,1.08)" text-anchor="middle" font-size="7.8" fill="#1a1a1a" stroke="#1a1a1a" stroke-width="0.02">90</text>
<text transform="translate(255.70,168.60) scale(1,1.08)" text-anchor="middle" font-size="7.8" fill="#1a1a1a" stroke="#1a1a1a" stroke-width="0.02">120</text>
<text x="158.80" y="177.50" text-anchor="middle" font-size="7.8" font-weight="bold" fill="#111" stroke="#111" stroke-width="0.12">Time (days)</text>
<text transform="translate(24.90,91.30) rotate(-90)" text-anchor="middle" font-size="7.85" font-weight="bold" fill="#111" stroke="#111" stroke-width="0.08">Proportion of tumors that have</text>
<text transform="translate(34.40,91.30) rotate(-90)" text-anchor="middle" font-size="7.85" font-weight="bold" fill="#111" stroke="#111" stroke-width="0.08">not doubled in volume</text>
<path d="M305.35,25.10 V157.90 H506.00" fill="none" stroke="#000" stroke-width="1.1" stroke-linejoin="miter"/>
<path d="M300.65,28.45H305.35M302.75,34.77H305.35M302.75,41.08H305.35M302.75,47.39H305.35M302.75,53.71H305.35M300.65,60.02H305.35M302.75,66.34H305.35M302.75,72.66H305.35M302.75,78.97H305.35M302.75,85.28H305.35M300.65,91.60H305.35M302.75,97.91H305.35M302.75,104.23H305.35M302.75,110.55H305.35M302.75,116.86H305.35M300.65,123.17H305.35M302.75,129.49H305.35M302.75,135.80H305.35M302.75,142.12H305.35M302.75,148.43H305.35M300.65,154.75H305.35" stroke="#000" stroke-width="0.95" fill="none"/>
<text transform="translate(298.70,31.10) scale(1,1.08)" text-anchor="end" font-size="7.8" fill="#1a1a1a" stroke="#1a1a1a" stroke-width="0.02">1.00</text>
<text transform="translate(298.70,62.67) scale(1,1.08)" text-anchor="end" font-size="7.8" fill="#1a1a1a" stroke="#1a1a1a" stroke-width="0.02">0.75</text>
<text transform="translate(298.70,94.25) scale(1,1.08)" text-anchor="end" font-size="7.8" fill="#1a1a1a" stroke="#1a1a1a" stroke-width="0.02">0.50</text>
<text transform="translate(298.70,125.83) scale(1,1.08)" text-anchor="end" font-size="7.8" fill="#1a1a1a" stroke="#1a1a1a" stroke-width="0.02">0.25</text>
<text transform="translate(298.70,157.40) scale(1,1.08)" text-anchor="end" font-size="7.8" fill="#1a1a1a" stroke="#1a1a1a" stroke-width="0.02">0.00</text>
<path d="M309.20,157.90V160.90M317.22,157.90V159.75M325.23,157.90V159.75M333.25,157.90V159.75M341.27,157.90V159.75M349.28,157.90V159.75M357.30,157.90V160.90M365.32,157.90V159.75M373.33,157.90V159.75M381.35,157.90V159.75M389.37,157.90V159.75M397.38,157.90V159.75M405.40,157.90V160.90M413.42,157.90V159.75M421.43,157.90V159.75M429.45,157.90V159.75M437.47,157.90V159.75M445.48,157.90V159.75M453.50,157.90V160.90M461.52,157.90V159.75M469.53,157.90V159.75M477.55,157.90V159.75M485.57,157.90V159.75M493.58,157.90V159.75M501.60,157.90V160.90" stroke="#000" stroke-width="0.95" fill="none"/>
<text transform="translate(309.10,168.60) scale(1,1.08)" text-anchor="middle" font-size="7.8" fill="#1a1a1a" stroke="#1a1a1a" stroke-width="0.02">0</text>
<text transform="translate(357.20,168.60) scale(1,1.08)" text-anchor="middle" font-size="7.8" fill="#1a1a1a" stroke="#1a1a1a" stroke-width="0.02">30</text>
<text transform="translate(405.30,168.60) scale(1,1.08)" text-anchor="middle" font-size="7.8" fill="#1a1a1a" stroke="#1a1a1a" stroke-width="0.02">60</text>
<text transform="translate(453.40,168.60) scale(1,1.08)" text-anchor="middle" font-size="7.8" fill="#1a1a1a" stroke="#1a1a1a" stroke-width="0.02">90</text>
<text transform="translate(501.50,168.60) scale(1,1.08)" text-anchor="middle" font-size="7.8" fill="#1a1a1a" stroke="#1a1a1a" stroke-width="0.02">120</text>
<text x="404.60" y="177.50" text-anchor="middle" font-size="7.8" font-weight="bold" fill="#111" stroke="#111" stroke-width="0.12">Time (days)</text>
<path d="M59.55,190.95 V323.75 H260.20" fill="none" stroke="#000" stroke-width="1.1" stroke-linejoin="miter"/>
<path d="M54.85,194.30H59.55M56.95,200.61H59.55M56.95,206.93H59.55M56.95,213.25H59.55M56.95,219.56H59.55M54.85,225.88H59.55M56.95,232.19H59.55M56.95,238.50H59.55M56.95,244.82H59.55M56.95,251.13H59.55M54.85,257.45H59.55M56.95,263.76H59.55M56.95,270.08H59.55M56.95,276.39H59.55M56.95,282.71H59.55M54.85,289.03H59.55M56.95,295.34H59.55M56.95,301.66H59.55M56.95,307.97H59.55M56.95,314.29H59.55M54.85,320.60H59.55" stroke="#000" stroke-width="0.95" fill="none"/>
<text transform="translate(52.90,196.95) scale(1,1.08)" text-anchor="end" font-size="7.8" fill="#1a1a1a" stroke="#1a1a1a" stroke-width="0.02">1.00</text>
<text transform="translate(52.90,228.53) scale(1,1.08)" text-anchor="end" font-size="7.8" fill="#1a1a1a" stroke="#1a1a1a" stroke-width="0.02">0.75</text>
<text transform="translate(52.90,260.10) scale(1,1.08)" text-anchor="end" font-size="7.8" fill="#1a1a1a" stroke="#1a1a1a" stroke-width="0.02">0.50</text>
<text transform="translate(52.90,291.68) scale(1,1.08)" text-anchor="end" font-size="7.8" fill="#1a1a1a" stroke="#1a1a1a" stroke-width="0.02">0.25</text>
<text transform="translate(52.90,323.25) scale(1,1.08)" text-anchor="end" font-size="7.8" fill="#1a1a1a" stroke="#1a1a1a" stroke-width="0.02">0.00</text>
<path d="M63.40,323.75V326.75M71.42,323.75V325.60M79.43,323.75V325.60M87.45,323.75V325.60M95.47,323.75V325.60M103.48,323.75V325.60M111.50,323.75V326.75M119.52,323.75V325.60M127.53,323.75V325.60M135.55,323.75V325.60M143.57,323.75V325.60M151.58,323.75V325.60M159.60,323.75V326.75M167.62,323.75V325.60M175.63,323.75V325.60M183.65,323.75V325.60M191.67,323.75V325.60M199.68,323.75V325.60M207.70,323.75V326.75M215.72,323.75V325.60M223.73,323.75V325.60M231.75,323.75V325.60M239.77,323.75V325.60M247.78,323.75V325.60M255.80,323.75V326.75" stroke="#000" stroke-width="0.95" fill="none"/>
<text transform="translate(63.30,334.45) scale(1,1.08)" text-anchor="middle" font-size="7.8" fill="#1a1a1a" stroke="#1a1a1a" stroke-width="0.02">0</text>
<text transform="translate(111.40,334.45) scale(1,1.08)" text-anchor="middle" font-size="7.8" fill="#1a1a1a" stroke="#1a1a1a" stroke-width="0.02">30</text>
<text transform="translate(159.50,334.45) scale(1,1.08)" text-anchor="middle" font-size="7.8" fill="#1a1a1a" stroke="#1a1a1a" stroke-width="0.02">60</text>
<text transform="translate(207.60,334.45) scale(1,1.08)" text-anchor="middle" font-size="7.8" fill="#1a1a1a" stroke="#1a1a1a" stroke-width="0.02">90</text>
<text transform="translate(255.70,334.45) scale(1,1.08)" text-anchor="middle" font-size="7.8" fill="#1a1a1a" stroke="#1a1a1a" stroke-width="0.02">120</text>
<text x="158.80" y="343.35" text-anchor="middle" font-size="7.8" font-weight="bold" fill="#111" stroke="#111" stroke-width="0.12">Time (days)</text>
<text transform="translate(24.90,257.15) rotate(-90)" text-anchor="middle" font-size="7.85" font-weight="bold" fill="#111" stroke="#111" stroke-width="0.08">Proportion of tumors that have</text>
<text transform="translate(34.40,257.15) rotate(-90)" text-anchor="middle" font-size="7.85" font-weight="bold" fill="#111" stroke="#111" stroke-width="0.08">not doubled in volume</text>
<path d="M305.35,190.95 V323.75 H506.00" fill="none" stroke="#000" stroke-width="1.1" stroke-linejoin="miter"/>
<path d="M300.65,194.30H305.35M302.75,200.61H305.35M302.75,206.93H305.35M302.75,213.25H305.35M302.75,219.56H305.35M300.65,225.88H305.35M302.75,232.19H305.35M302.75,238.50H305.35M302.75,244.82H305.35M302.75,251.13H305.35M300.65,257.45H305.35M302.75,263.76H305.35M302.75,270.08H305.35M302.75,276.39H305.35M302.75,282.71H305.35M300.65,289.03H305.35M302.75,295.34H305.35M302.75,301.66H305.35M302.75,307.97H305.35M302.75,314.29H305.35M300.65,320.60H305.35" stroke="#000" stroke-width="0.95" fill="none"/>
<text transform="translate(298.70,196.95) scale(1,1.08)" text-anchor="end" font-size="7.8" fill="#1a1a1a" stroke="#1a1a1a" stroke-width="0.02">1.00</text>
<text transform="translate(298.70,228.53) scale(1,1.08)" text-anchor="end" font-size="7.8" fill="#1a1a1a" stroke="#1a1a1a" stroke-width="0.02">0.75</text>
<text transform="translate(298.70,260.10) scale(1,1.08)" text-anchor="end" font-size="7.8" fill="#1a1a1a" stroke="#1a1a1a" stroke-width="0.02">0.50</text>
<text transform="translate(298.70,291.68) scale(1,1.08)" text-anchor="end" font-size="7.8" fill="#1a1a1a" stroke="#1a1a1a" stroke-width="0.02">0.25</text>
<text transform="translate(298.70,323.25) scale(1,1.08)" text-anchor="end" font-size="7.8" fill="#1a1a1a" stroke="#1a1a1a" stroke-width="0.02">0.00</text>
<path d="M309.20,323.75V326.75M317.22,323.75V325.60M325.23,323.75V325.60M333.25,323.75V325.60M341.27,323.75V325.60M349.28,323.75V325.60M357.30,323.75V326.75M365.32,323.75V325.60M373.33,323.75V325.60M381.35,323.75V325.60M389.37,323.75V325.60M397.38,323.75V325.60M405.40,323.75V326.75M413.42,323.75V325.60M421.43,323.75V325.60M429.45,323.75V325.60M437.47,323.75V325.60M445.48,323.75V325.60M453.50,323.75V326.75M461.52,323.75V325.60M469.53,323.75V325.60M477.55,323.75V325.60M485.57,323.75V325.60M493.58,323.75V325.60M501.60,323.75V326.75" stroke="#000" stroke-width="0.95" fill="none"/>
<text transform="translate(309.10,334.45) scale(1,1.08)" text-anchor="middle" font-size="7.8" fill="#1a1a1a" stroke="#1a1a1a" stroke-width="0.02">0</text>
<text transform="translate(357.20,334.45) scale(1,1.08)" text-anchor="middle" font-size="7.8" fill="#1a1a1a" stroke="#1a1a1a" stroke-width="0.02">30</text>
<text transform="translate(405.30,334.45) scale(1,1.08)" text-anchor="middle" font-size="7.8" fill="#1a1a1a" stroke="#1a1a1a" stroke-width="0.02">60</text>
<text transform="translate(453.40,334.45) scale(1,1.08)" text-anchor="middle" font-size="7.8" fill="#1a1a1a" stroke="#1a1a1a" stroke-width="0.02">90</text>
<text transform="translate(501.50,334.45) scale(1,1.08)" text-anchor="middle" font-size="7.8" fill="#1a1a1a" stroke="#1a1a1a" stroke-width="0.02">120</text>
<text x="404.60" y="343.35" text-anchor="middle" font-size="7.8" font-weight="bold" fill="#111" stroke="#111" stroke-width="0.12">Time (days)</text>
<text x="12.5" y="19.7" font-size="10.2" font-weight="bold" fill="#000" stroke="#000" stroke-width="0.4">A</text>
<text x="273.1" y="19.6" font-size="10.2" font-weight="bold" fill="#000" stroke="#000" stroke-width="0.4">B</text>
<text x="12.5" y="188.10000000000002" font-size="10.2" font-weight="bold" fill="#000" stroke="#000" stroke-width="0.4">C</text>
<text x="273.1" y="187.4" font-size="10.2" font-weight="bold" fill="#000" stroke="#000" stroke-width="0.4">D</text>
<path d="M63.4,28.45 H190.2 V39.8 H201.5 V51.2 H214.4 V62.5 H220.7 V96.95 H233.3" fill="none" stroke="#000" stroke-width="1.0" stroke-linejoin="miter"/>
<path d="M233.30,95.10V108.35M230.20,100.10H236.40M230.20,102.10H236.40M230.20,103.10H236.40M230.20,105.10H236.40" fill="none" stroke="#000" stroke-width="1.0"/>
<path d="M69.80,28.45L69.80,47.90" fill="none" stroke="#000" stroke-width="1.0" stroke-dasharray="3.6 1.4" stroke-dashoffset="-0.00" stroke-linecap="butt"/>
<path d="M69.80,47.90L74.50,47.90" fill="none" stroke="#000" stroke-width="1.0" stroke-dasharray="3.9 1.5" stroke-dashoffset="-0.00" stroke-linecap="butt"/>
<path d="M74.50,47.90L74.50,77.00" fill="none" stroke="#000" stroke-width="1.0" stroke-dasharray="3.6 1.4" stroke-dashoffset="-0.00" stroke-linecap="butt"/>
<path d="M74.50,77.00L86.40,77.00" fill="none" stroke="#000" stroke-width="1.0" stroke-dasharray="3.9 1.5" stroke-dashoffset="-0.00" stroke-linecap="butt"/>
<path d="M86.40,77.00L86.40,86.80" fill="none" stroke="#000" stroke-width="1.0" stroke-dasharray="3.6 1.4" stroke-dashoffset="-0.00" stroke-linecap="butt"/>
<path d="M86.40,86.80L88.70,86.80" fill="none" stroke="#000" stroke-width="1.0" stroke-dasharray="3.9 1.5" stroke-dashoffset="-0.00" stroke-linecap="butt"/>
<path d="M88.70,86.80L88.70,96.50" fill="none" stroke="#000" stroke-width="1.0" stroke-dasharray="3.6 1.4" stroke-dashoffset="-0.00" stroke-linecap="butt"/>
<path d="M88.70,96.50L97.00,96.50" fill="none" stroke="#000" stroke-width="1.0" stroke-dasharray="3.9 1.5" stroke-dashoffset="-0.00" stroke-linecap="butt"/>
<path d="M97.00,96.50L97.00,106.90" fill="none" stroke="#000" stroke-width="1.0" stroke-dasharray="3.6 1.4" stroke-dashoffset="-0.00" stroke-linecap="butt"/>
<path d="M97.00,106.90L113.10,106.90" fill="none" stroke="#000" stroke-width="1.0" stroke-dasharray="3.9 1.5" stroke-dashoffset="-0.00" stroke-linecap="butt"/>
<path d="M113.10,106.90L113.10,118.50" fill="none" stroke="#000" stroke-width="1.0" stroke-dasharray="3.6 1.4" stroke-dashoffset="-0.00" stroke-linecap="butt"/>
<path d="M113.10,118.50L120.90,118.50" fill="none" stroke="#000" stroke-width="1.0" stroke-dasharray="3.9 1.5" stroke-dashoffset="-0.00" stroke-linecap="butt"/>
<path d="M109.70,104.30V107.20" fill="none" stroke="#000" stroke-width="1.0"/>
<path d="M120.90,117.00V126.10M117.90,118.10H123.90M117.90,121.10H123.90M117.90,123.10H123.90" fill="none" stroke="#000" stroke-width="1.0"/>
<text x="73.3" y="149.4" font-size="6.75" font-weight="bold" font-style="italic" fill="#000" stroke="#000" stroke-width="0.06">p&lt;0.0008</text>
<text x="192.8" y="120.85" font-size="6.75" font-weight="bold" fill="#111" stroke="#111" stroke-width="0.08">Median tumor volume</text>
<text x="192.8" y="129.7" font-size="6.75" font-weight="bold" fill="#111" stroke="#111" stroke-width="0.08">doubling time (days)</text>
<path d="M189.7,132.2H262.4" stroke="#000" stroke-width="1.0" fill="none"/>
<path d="M182.3,139.1H193.10000000000002" stroke="#000" stroke-width="1.2" fill="none"/>
<path d="M182.3,147.2H193.10000000000002" stroke="#000" stroke-width="1.2" stroke-dasharray="4.6 1.7" fill="none"/>
<text x="196.1" y="140.8" font-size="6.75" font-weight="bold" fill="#111" stroke="#111" stroke-width="0.08">Cet</text>
<text x="196.1" y="149.5" font-size="6.75" font-weight="bold" fill="#111" stroke="#111" stroke-width="0.08">Gef</text>
<text x="234.2" y="140.8" text-anchor="end" font-size="6.75" font-weight="bold" fill="#111" stroke="#111" stroke-width="0.08">98</text>
<text x="234.2" y="149.5" text-anchor="end" font-size="6.75" font-weight="bold" fill="#111" stroke="#111" stroke-width="0.08">16</text>
<path d="M309.2,28.45 H447.2 V51.2 H466.1 V62.8 H479.2" fill="none" stroke="#000" stroke-width="1.0" stroke-linejoin="miter"/>
<path d="M479.20,61.80V83.60M476.10,66.10H482.30M476.10,68.10H482.30M476.10,70.10H482.30M476.10,72.10H482.30M476.10,74.10H482.30M476.10,76.10H482.30M476.10,78.10H482.30M476.10,81.10H482.30" fill="none" stroke="#000" stroke-width="1.0"/>
<path d="M323.30,28.45L323.30,40.10" fill="none" stroke="#000" stroke-width="1.0" stroke-dasharray="3.0 1.35" stroke-dashoffset="-0.00" stroke-linecap="butt"/>
<path d="M323.30,40.10L361.70,40.10" fill="none" stroke="#000" stroke-width="1.0" stroke-dasharray="4.5 1.8" stroke-dashoffset="-0.00" stroke-linecap="butt"/>
<path d="M361.70,40.10L361.70,54.10" fill="none" stroke="#000" stroke-width="1.0" stroke-dasharray="3.0 1.35" stroke-dashoffset="-0.00" stroke-linecap="butt"/>
<path d="M361.70,54.10L366.70,54.10" fill="none" stroke="#000" stroke-width="1.0" stroke-dasharray="3.9 1.5" stroke-dashoffset="-0.00" stroke-linecap="butt"/>
<path d="M366.70,54.10L366.70,82.90" fill="none" stroke="#000" stroke-width="1.0" stroke-dasharray="3.0 1.35" stroke-dashoffset="-0.00" stroke-linecap="butt"/>
<path d="M366.70,82.90L369.90,82.90" fill="none" stroke="#000" stroke-width="1.0" stroke-dasharray="3.9 1.5" stroke-dashoffset="-0.00" stroke-linecap="butt"/>
<path d="M369.90,82.90L369.90,125.80" fill="none" stroke="#000" stroke-width="1.0" stroke-dasharray="3.0 1.35" stroke-dashoffset="-0.00" stroke-linecap="butt"/>
<path d="M369.90,125.80L373.50,125.80" fill="none" stroke="#000" stroke-width="1.0" stroke-dasharray="3.9 1.5" stroke-dashoffset="-0.00" stroke-linecap="butt"/>
<path d="M373.50,125.80L373.50,140.00" fill="none" stroke="#000" stroke-width="1.0" stroke-dasharray="3.0 1.35" stroke-dashoffset="-0.00" stroke-linecap="butt"/>
<path d="M373.50,140.00L376.10,140.00" fill="none" stroke="#000" stroke-width="1.0" stroke-dasharray="3.9 1.5" stroke-dashoffset="-0.00" stroke-linecap="butt"/>
<path d="M376.10,140.00L376.10,155.30" fill="none" stroke="#000" stroke-width="1.0" stroke-dasharray="3.0 1.35" stroke-dashoffset="-0.00" stroke-linecap="butt"/>
<path d="M331.40,38.90V44.50M328.30,42.10H334.50" fill="none" stroke="#000" stroke-width="1.0"/>
<text x="317.3" y="149.4" font-size="6.75" font-weight="bold" font-style="italic" fill="#000" stroke="#000" stroke-width="0.06">p&lt;0.0001</text>
<text x="437.7" y="120.85" font-size="6.75" font-weight="bold" fill="#111" stroke="#111" stroke-width="0.08">Median tumor volume</text>
<text x="437.7" y="129.7" font-size="6.75" font-weight="bold" fill="#111" stroke="#111" stroke-width="0.08">doubling time (days)</text>
<path d="M434.8,132.2H508.0" stroke="#000" stroke-width="1.0" fill="none"/>
<path d="M412.3,139.1H423.1" stroke="#000" stroke-width="1.2" fill="none"/>
<path d="M412.3,147.2H423.1" stroke="#000" stroke-width="1.2" stroke-dasharray="4.6 1.7" fill="none"/>
<text x="426.1" y="140.8" font-size="6.75" font-weight="bold" fill="#111" stroke="#111" stroke-width="0.08">Cet+RT</text>
<text x="426.1" y="149.5" font-size="6.75" font-weight="bold" fill="#111" stroke="#111" stroke-width="0.08">Gef+RT</text>
<text x="480.3" y="140.8" text-anchor="end" font-size="6.75" font-weight="bold" fill="#111" stroke="#111" stroke-width="0.08">&gt;106</text>
<text x="480.3" y="149.5" text-anchor="end" font-size="6.75" font-weight="bold" fill="#111" stroke="#111" stroke-width="0.08">38</text>
<path d="M63.4,194.3 H227.35 V204.5 H233" fill="none" stroke="#000" stroke-width="1.0" stroke-linejoin="miter"/>
<path d="M233.00,202.80V232.80M229.90,207.10H236.10M229.90,210.10H236.10M229.90,212.10H236.10M229.90,214.10H236.10M229.90,216.10H236.10M229.90,218.10H236.10M229.90,220.10H236.10M229.90,222.10H236.10M229.90,224.10H236.10M229.90,226.10H236.10M229.90,229.10H236.10M229.90,231.10H236.10" fill="none" stroke="#000" stroke-width="1.0"/>
<path d="M96.80,194.30L96.80,205.30" fill="none" stroke="#000" stroke-width="1.0" stroke-dasharray="3.6 1.4" stroke-dashoffset="-0.00" stroke-linecap="butt"/>
<path d="M96.80,205.30L100.40,205.30" fill="none" stroke="#000" stroke-width="1.0" stroke-dasharray="3.9 1.5" stroke-dashoffset="-0.00" stroke-linecap="butt"/>
<path d="M100.40,205.30L100.40,217.60" fill="none" stroke="#000" stroke-width="1.0" stroke-dasharray="3.6 1.4" stroke-dashoffset="-0.00" stroke-linecap="butt"/>
<path d="M100.40,217.60L103.60,217.60" fill="none" stroke="#000" stroke-width="1.0" stroke-dasharray="3.9 1.5" stroke-dashoffset="-0.00" stroke-linecap="butt"/>
<path d="M103.60,217.60L103.60,240.50" fill="none" stroke="#000" stroke-width="1.0" stroke-dasharray="3.6 1.4" stroke-dashoffset="-0.00" stroke-linecap="butt"/>
<path d="M103.60,240.50L109.90,240.50" fill="none" stroke="#000" stroke-width="1.0" stroke-dasharray="3.9 1.5" stroke-dashoffset="-0.00" stroke-linecap="butt"/>
<path d="M109.90,240.50L109.90,274.50" fill="none" stroke="#000" stroke-width="1.0" stroke-dasharray="3.6 1.4" stroke-dashoffset="-0.00" stroke-linecap="butt"/>
<path d="M109.90,274.50L114.00,274.50" fill="none" stroke="#000" stroke-width="1.0" stroke-dasharray="3.9 1.5" stroke-dashoffset="-0.00" stroke-linecap="butt"/>
<path d="M114.00,274.50L114.00,286.10" fill="none" stroke="#000" stroke-width="1.0" stroke-dasharray="3.6 1.4" stroke-dashoffset="-0.00" stroke-linecap="butt"/>
<path d="M114.00,286.10L116.70,286.10" fill="none" stroke="#000" stroke-width="1.0" stroke-dasharray="3.9 1.5" stroke-dashoffset="-0.00" stroke-linecap="butt"/>
<path d="M116.70,286.10L116.70,297.70" fill="none" stroke="#000" stroke-width="1.0" stroke-dasharray="3.6 1.4" stroke-dashoffset="-0.00" stroke-linecap="butt"/>
<path d="M116.70,297.70L127.00,297.70" fill="none" stroke="#000" stroke-width="1.0" stroke-dasharray="3.9 1.5" stroke-dashoffset="-0.00" stroke-linecap="butt"/>
<path d="M126.80,296.40V303.50M123.30,298.10H130.30M123.30,300.10H130.30" fill="none" stroke="#000" stroke-width="1.0"/>
<text x="73.3" y="314.0" font-size="6.75" font-weight="bold" font-style="italic" fill="#000" stroke="#000" stroke-width="0.06">p&lt;0.0001</text>
<text x="193.0" y="286.8" font-size="6.75" font-weight="bold" fill="#111" stroke="#111" stroke-width="0.08">Median tumor volume</text>
<text x="193.0" y="295.5" font-size="6.75" font-weight="bold" fill="#111" stroke="#111" stroke-width="0.08">doubling time (days)</text>
<path d="M190.1,297.8H262.2" stroke="#000" stroke-width="1.0" fill="none"/>
<path d="M161.9,304.2H173.10000000000002" stroke="#000" stroke-width="1.2" fill="none"/>
<path d="M161.9,312.4H173.10000000000002" stroke="#000" stroke-width="1.2" stroke-dasharray="4.6 1.7" fill="none"/>
<text x="176.1" y="306.3" font-size="6.75" font-weight="bold" fill="#111" stroke="#111" stroke-width="0.08">Cet+Gem</text>
<text x="176.1" y="314.6" font-size="6.75" font-weight="bold" fill="#111" stroke="#111" stroke-width="0.08">Gef+Gem</text>
<text x="236.0" y="306.3" text-anchor="end" font-size="6.75" font-weight="bold" fill="#111" stroke="#111" stroke-width="0.08">&gt;106</text>
<text x="236.0" y="314.6" text-anchor="end" font-size="6.75" font-weight="bold" fill="#111" stroke="#111" stroke-width="0.08">29</text>
<path d="M309.2,194.3 H459.9 V203.8 H479.2" fill="none" stroke="#000" stroke-width="1.0" stroke-linejoin="miter"/>
<path d="M479.20,202.20V234.40M476.10,206.10H482.30M476.10,208.10H482.30M476.10,210.10H482.30M476.10,213.10H482.30M476.10,215.10H482.30M476.10,217.10H482.30M476.10,219.10H482.30M476.10,221.10H482.30M476.10,223.10H482.30M476.10,225.10H482.30M476.10,227.10H482.30M476.10,229.10H482.30M476.10,231.10H482.30" fill="none" stroke="#000" stroke-width="1.0"/>
<path d="M320.00,194.30L320.00,201.00" fill="none" stroke="#000" stroke-width="1.0" stroke-dasharray="3.6 1.4" stroke-dashoffset="-0.00" stroke-linecap="butt"/>
<path d="M320.00,201.00L387.70,201.00" fill="none" stroke="#000" stroke-width="1.0" stroke-dasharray="4.5 1.65" stroke-dashoffset="-0.00" stroke-linecap="butt"/>
<path d="M387.70,201.00L387.70,212.00" fill="none" stroke="#000" stroke-width="1.0" stroke-dasharray="3.6 1.4" stroke-dashoffset="-0.00" stroke-linecap="butt"/>
<path d="M387.70,212.00L398.60,212.00" fill="none" stroke="#000" stroke-width="1.0" stroke-dasharray="3.9 1.5" stroke-dashoffset="-0.00" stroke-linecap="butt"/>
<path d="M398.60,212.00L398.60,233.60" fill="none" stroke="#000" stroke-width="1.0" stroke-dasharray="3.6 1.4" stroke-dashoffset="-0.00" stroke-linecap="butt"/>
<path d="M398.60,233.60L410.60,233.60" fill="none" stroke="#000" stroke-width="1.0" stroke-dasharray="3.9 1.5" stroke-dashoffset="-0.00" stroke-linecap="butt"/>
<path d="M410.60,233.60L410.60,247.80" fill="none" stroke="#000" stroke-width="1.0" stroke-dasharray="3.6 1.4" stroke-dashoffset="-0.00" stroke-linecap="butt"/>
<path d="M410.60,247.80L414.80,247.80" fill="none" stroke="#000" stroke-width="1.0" stroke-dasharray="3.9 1.5" stroke-dashoffset="-0.00" stroke-linecap="butt"/>
<path d="M414.80,254.40L414.80,277.80" fill="none" stroke="#000" stroke-width="1.0" stroke-dasharray="2.9 1.3" stroke-dashoffset="-0.00" stroke-linecap="butt"/>
<path d="M337.70,198.60V212.80M335.00,201.10H340.40M335.00,204.10H340.40M335.00,206.10H340.40M335.00,209.10H340.40M335.00,211.10H340.40" fill="none" stroke="#000" stroke-width="1.0"/>
<path d="M342.40,198.60V205.30M339.80,203.10H345.00" fill="none" stroke="#000" stroke-width="1.0"/>
<path d="M398.60,231.40V238.00M395.90,234.10H401.30M395.90,236.10H401.30" fill="none" stroke="#000" stroke-width="1.0"/>
<path d="M414.80,246.00V254.40M411.80,248.10H417.80M411.80,250.10H417.80M411.80,253.10H417.80" fill="none" stroke="#000" stroke-width="1.0"/>
<text x="317.3" y="314.0" font-size="6.75" font-weight="bold" font-style="italic" fill="#000" stroke="#000" stroke-width="0.06">p&lt;0.0017</text>
<text x="438.0" y="286.8" font-size="6.75" font-weight="bold" fill="#111" stroke="#111" stroke-width="0.08">Median tumor volume</text>
<text x="438.0" y="295.5" font-size="6.75" font-weight="bold" fill="#111" stroke="#111" stroke-width="0.08">doubling time (days)</text>
<path d="M435.0,297.8H508.0" stroke="#000" stroke-width="1.0" fill="none"/>
<path d="M393.5,304.2H404.5" stroke="#000" stroke-width="1.2" fill="none"/>
<path d="M393.5,312.4H404.5" stroke="#000" stroke-width="1.2" stroke-dasharray="4.6 1.7" fill="none"/>
<text x="407.2" y="306.3" font-size="6.75" font-weight="bold" fill="#111" stroke="#111" stroke-width="0.08">Cet+Gem+RT</text>
<text x="407.2" y="314.6" font-size="6.75" font-weight="bold" fill="#111" stroke="#111" stroke-width="0.08">Gef+Gem+RT</text>
<text x="480.2" y="306.3" text-anchor="end" font-size="6.75" font-weight="bold" fill="#111" stroke="#111" stroke-width="0.08">&gt;106</text>
<text x="480.2" y="314.6" text-anchor="end" font-size="6.75" font-weight="bold" fill="#111" stroke="#111" stroke-width="0.08">66</text>
</g>
</svg>
<div class="frame"></div>
</body></html>
